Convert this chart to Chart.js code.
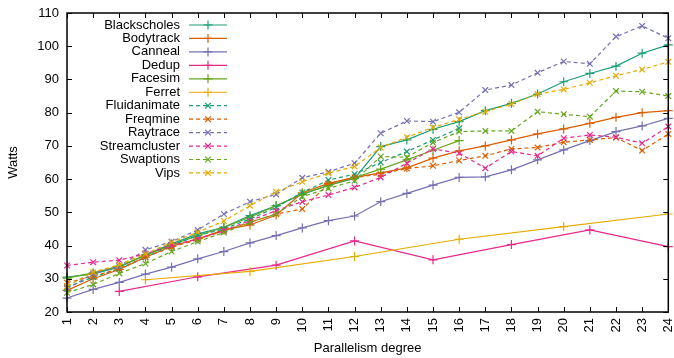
<!DOCTYPE html>
<html>
<head>
<meta charset="utf-8">
<script src="https://cdn.jsdelivr.net/npm/chart.js@4/dist/chart.umd.min.js"></script>
<style>
  html, body { margin: 0; padding: 0; background: #fff; }
  #wrap { width: 674px; height: 358px; }
</style>
</head>
<body>
<div id="wrap"><canvas id="watts" width="674" height="358"></canvas></div>
<script>
const degrees = [1,2,3,4,5,6,7,8,9,10,11,12,13,14,15,16,17,18,19,20,21,22,23,24];
const yTicks = [20,30,40,50,60,70,80,90,100,110];

const blackscholes = [30.5,31.5,33.5,37.2,40.5,43.5,45.5,49,52,55.4,58.2,60.2,69.8,71.8,75,77.3,80.6,82.8,85.6,89.3,91.8,94,97.9,100.4];
const bodytrack = [26.5,30,32.8,36.5,39.8,42,44.7,46.2,49.2,55.9,58.7,60.5,61.9,63.4,66.3,68.5,70,71.8,73.6,75.1,76.8,78.6,80,80.6];
const canneal = [24.2,26.8,28.9,31.4,33.5,36,38.2,40.8,43,45.3,47.5,48.9,53.2,55.7,58.2,60.5,60.7,62.8,65.8,68.8,71.6,74.3,76,78.3];
const dedup = [null,null,26.2,null,null,30.6,null,null,34.1,null,null,41.4,null,null,35.7,null,null,40.3,null,null,44.7,null,null,39.7];
const facesim = [30.2,31.8,33.8,37,40.2,43,45.5,48.5,52,55.6,58,60.5,63,65.8,68.7,71.6];
const ferret = [null,null,null,29.7,null,null,null,32.2,null,null,null,36.7,null,null,null,41.9,null,null,null,45.7,null,null,null,49.5];
const fluidanimate = [27.5,30.5,33,36.5,40,43,45,48,51.5,56,59.7,61.5,65,68.3,71.8,75.3];
const freqmine = [28.8,30.8,33,36.5,39.5,41.8,44.5,47,49.5,51,58.5,60.5,61.5,63.2,64,65.6,67,69.1,69.5,71.1,71.8,72.5,68.6,73.6];
const raytrace = [27,31.5,33.8,38.7,41.2,44.7,49.5,53.2,55.4,60.4,62.2,64.8,73.8,77.5,77.3,80.1,86.8,88.3,92,95.4,94.7,102.9,106.1,102.4];
const streamcluster = [34,35,35.6,37.5,40,42,44.5,47.5,50.5,53.2,55.2,57.5,60.5,64.8,69.1,67.8,63.3,68.3,67,72.3,73.3,72.6,70.8,75.8];
const swaptions = [25.8,28.3,31.6,34.6,38.2,41.2,43.9,47,49.5,54.7,57.2,59.5,66.8,66.6,71,74.3,74.5,74.5,80.3,79.5,78.8,86.5,86.3,85];
const vips = [27.8,32,34.2,37.5,41,44,47.4,52,56.2,59.2,61.8,63.8,69.5,72.6,75.5,78,80.3,82.6,85.6,87,89,91.1,93,95.3];

const names = ["Blackscholes","Bodytrack","Canneal","Dedup","Facesim","Ferret","Fluidanimate","Freqmine","Raytrace","Streamcluster","Swaptions","Vips"];
const series = [blackscholes,bodytrack,canneal,dedup,facesim,ferret,fluidanimate,freqmine,raytrace,streamcluster,swaptions,vips];
const palette = ["#1b9e77","#d95f02","#7570b3","#e7298a","#66a61e","#e6ab02"];

const FONT = "13px 'Liberation Sans', Arial, sans-serif";

const datasets = series.map((vals, i) => {
  const dashed = i >= 6;
  const color = palette[i % 6];
  return {
    label: names[i],
    data: vals,
    borderColor: color,
    backgroundColor: color,
    borderWidth: 1.2,
    borderDash: dashed ? [4, 3] : [],
    pointStyle: dashed ? "crossRot" : "cross",
    pointRadius: dashed ? 4 : 4.5,
    pointBorderWidth: 1.2,
    pointBorderColor: color,
    tension: 0,
    spanGaps: true,
    fill: false,
    order: series.length - i,
  };
});

const framePlugin = {
  id: "gnuframe",
  afterDraw(chart) {
    const { ctx, chartArea: a, scales } = chart;
    const xs = scales.x, ys = scales.y;
    ctx.save();
    ctx.strokeStyle = "#000";
    ctx.lineWidth = 1;
    ctx.setLineDash([]);
    // ticks, inward on all four sides
    ctx.beginPath();
    degrees.forEach((d, i) => {
      const px = Math.round(xs.getPixelForValue(i)) + 0.5;
      ctx.moveTo(px, a.bottom); ctx.lineTo(px, a.bottom - 5);
      ctx.moveTo(px, a.top); ctx.lineTo(px, a.top + 5);
    });
    yTicks.forEach((v) => {
      const py = Math.round(ys.getPixelForValue(v)) + 0.5;
      ctx.moveTo(a.left, py); ctx.lineTo(a.left + 5, py);
      ctx.moveTo(a.right, py); ctx.lineTo(a.right - 5, py);
    });
    ctx.stroke();
    ctx.lineWidth = 1.5;
    ctx.strokeRect(a.left, a.top, a.right - a.left, a.bottom - a.top);

    ctx.fillStyle = "#000";
    ctx.font = FONT;
    // y tick labels
    ctx.textAlign = "right";
    ctx.textBaseline = "middle";
    yTicks.forEach((v) => {
      ctx.fillText(String(v), a.left - 8, ys.getPixelForValue(v));
    });
    // x tick labels, rotated bottom-to-top
    degrees.forEach((d, i) => {
      ctx.save();
      ctx.translate(xs.getPixelForValue(i), a.bottom + 6);
      ctx.rotate(-Math.PI / 2);
      ctx.textAlign = "right";
      ctx.textBaseline = "middle";
      ctx.fillText(String(d), 0, 0);
      ctx.restore();
    });
    // axis titles
    ctx.textAlign = "center";
    ctx.textBaseline = "middle";
    ctx.fillText("Parallelism degree", (a.left + a.right) / 2, 348);
    ctx.save();
    ctx.translate(13, (a.top + a.bottom) / 2);
    ctx.rotate(-Math.PI / 2);
    ctx.fillText("Watts", 0, 0);
    ctx.restore();

    // key, top left inside the frame
    chart.data.datasets.forEach((ds, i) => {
      const y = 25 + i * 13.45;
      ctx.fillStyle = "#000";
      ctx.font = FONT;
      ctx.textAlign = "right";
      ctx.textBaseline = "middle";
      ctx.fillText(ds.label, 180, y);
      ctx.strokeStyle = ds.borderColor;
      ctx.lineWidth = ds.borderWidth;
      ctx.setLineDash(ds.borderDash);
      ctx.beginPath();
      ctx.moveTo(189, y); ctx.lineTo(227, y);
      ctx.stroke();
      ctx.setLineDash([]);
      Chart.helpers.drawPoint(ctx, {
        pointStyle: ds.pointStyle,
        radius: ds.pointRadius,
        borderWidth: ds.pointBorderWidth,
        rotation: 0,
      }, 208, y);
    });
    ctx.restore();
  },
};

new Chart(document.getElementById("watts"), {
  type: "line",
  data: { labels: degrees, datasets },
  options: {
    responsive: false,
    animation: false,
    devicePixelRatio: 1,
    layout: { padding: { left: 67, right: 2, top: 13, bottom: 46 } },
    plugins: { legend: { display: false }, tooltip: { enabled: false } },
    scales: {
      x: { type: "category", offset: false, display: false },
      y: { type: "linear", min: 20, max: 110, display: false },
    },
  },
  plugins: [framePlugin],
});
</script>
</body>
</html>
